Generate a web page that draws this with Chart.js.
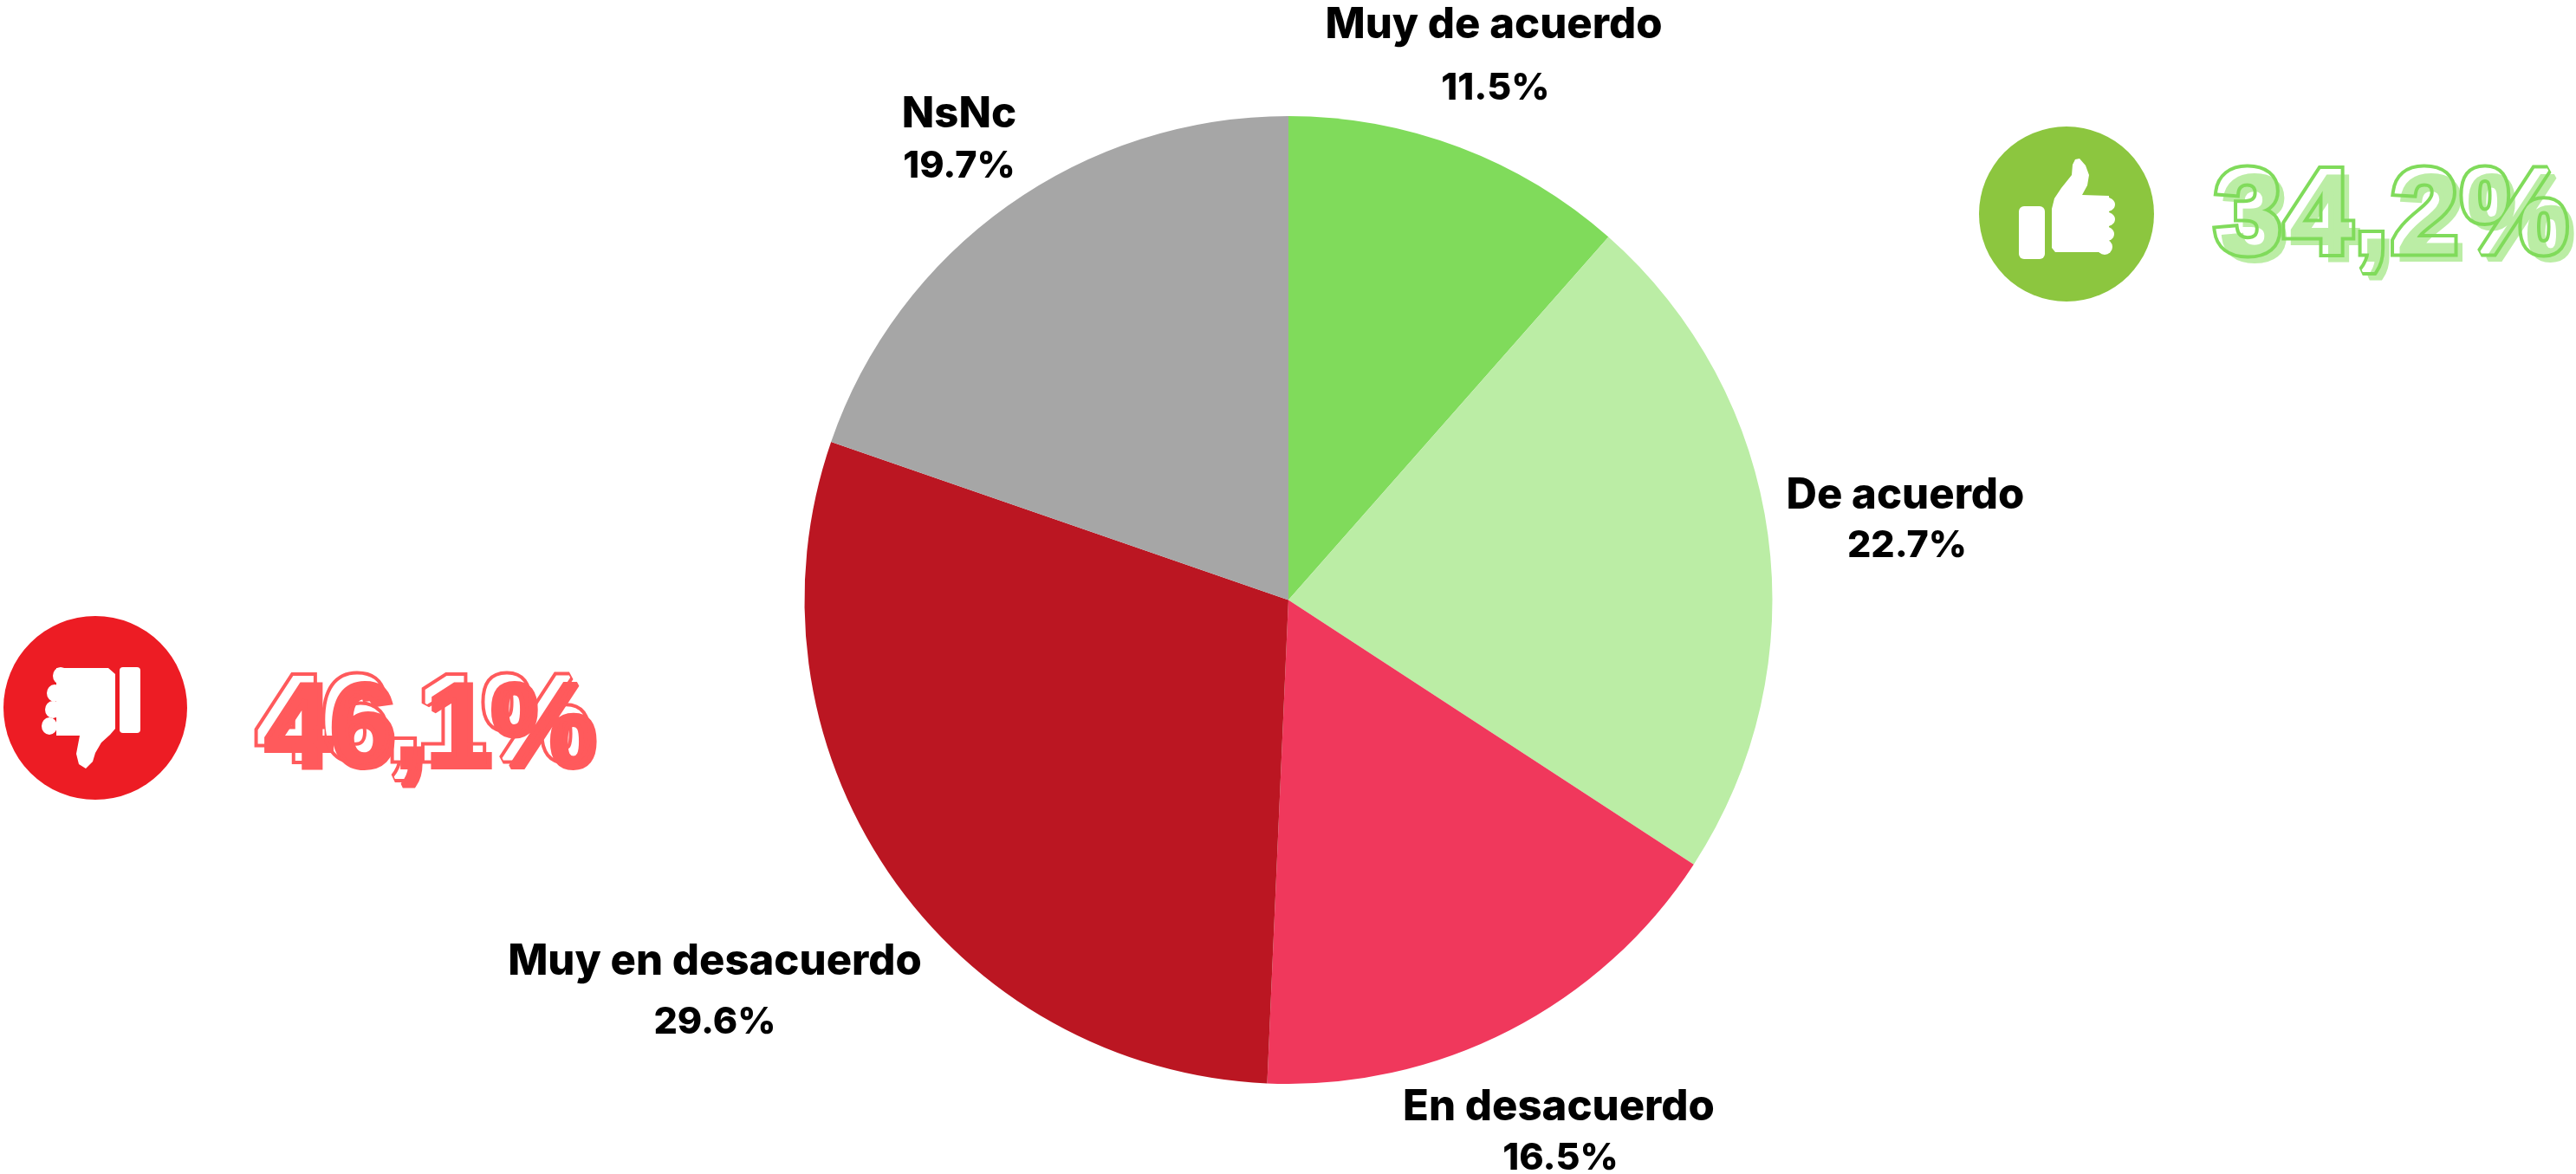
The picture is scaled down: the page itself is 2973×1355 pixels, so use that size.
<!DOCTYPE html>
<html>
<head>
<meta charset="utf-8">
<title>Pie</title>
<script src="https://cdn.jsdelivr.net/npm/chart.js@4/dist/chart.umd.min.js"></script>
<style>
  html, body { margin: 0; padding: 0; background: #fff; }
  canvas { display: block; }
</style>
</head>
<body>
<canvas id="pie" width="2973" height="1355"></canvas>
<script>
const categories = ["Muy de acuerdo", "De acuerdo", "En desacuerdo", "Muy en desacuerdo", "NsNc"];
const values = [11.5, 22.7, 16.5, 29.6, 19.7];
const colors = ["#80DB5B", "#BBEDA5", "#F0385C", "#BB1622", "#A6A6A6"];
const totalAgree = "34,2%";
const totalDisagree = "46,1%";

// label centres: [x name, y name, x value, y value]
const labelPos = [
    [1724, 29, 1726, 102],
    [2199, 572, 2201, 630],
    [1799, 1278, 1801, 1337],
    [825, 1110, 825, 1180],
    [1107, 132, 1107, 192]
];

function drawLabels(ctx) {
    ctx.fillStyle = "#000";
    ctx.textAlign = "center";
    ctx.textBaseline = "middle";
    categories.forEach((name, i) => {
        const p = labelPos[i];
        ctx.font = "800 49px Inter";
        ctx.fillText(name, p[0], p[1]);
        ctx.font = "800 43px Inter";
        ctx.fillText(values[i].toFixed(1) + "%", p[2], p[3]);
    });
}

function poly(ctx, cx, cy, pts) {
    ctx.beginPath();
    pts.forEach((p, i) => {
        if (i == 0) ctx.moveTo(cx + p[0], cy + p[1]);
        else ctx.lineTo(cx + p[0], cy + p[1]);
    });
    ctx.closePath();
    ctx.fill();
}

function roundBox(ctx, x, y, w, h, r) {
    ctx.beginPath();
    ctx.roundRect(x, y, w, h, r);
    ctx.fill();
}

function drawThumbUp(ctx, cx, cy) {
    ctx.fillStyle = "#8CC63F";
    ctx.beginPath();
    ctx.arc(cx, cy, 101, 0, Math.PI * 2);
    ctx.fill();
    ctx.fillStyle = "#fff";
    roundBox(ctx, cx - 55, cy - 9, 30, 61, 6);
    poly(ctx, cx, cy, [[-17, -6], [-14, -18], [-6, -30], [6, -45], [7, -57], [10, -63], [15, -64], [22, -56], [26, -45], [24, -33], [18, -22], [49, -21], [49, 44], [-13, 44], [-17, 39]]);
    [[-11, 15], [6, 15], [23, 14], [38, 12]].forEach(f => {
        ctx.beginPath();
        ctx.ellipse(cx + 44, cy + f[0], f[1] - 3, 9, 0, 0, Math.PI * 2);
        ctx.fill();
    });
}

function drawThumbDown(ctx, cx, cy) {
    ctx.fillStyle = "#ED1C24";
    ctx.beginPath();
    ctx.arc(cx, cy, 106, 0, Math.PI * 2);
    ctx.fill();
    ctx.fillStyle = "#fff";
    roundBox(ctx, cx + 28, cy - 47, 24, 76, 4);
    poly(ctx, cx, cy, [[-41, -46], [15, -46], [23, -39], [23, 24], [17, 31], [7, 40], [0, 52], [-3, 62], [-11, 70], [-19, 65], [-22, 53], [-18, 32], [-45, 32], [-45, -46]]);
    [[-37, -49], [-17, -56], [2, -58], [21, -62]].forEach(f => {
        ctx.beginPath();
        ctx.ellipse(cx + f[1] + 9, cy + f[0], 9, 10, 0, 0, Math.PI * 2);
        ctx.fill();
    });
}

// heavy look: solid copy shifted, then a ring round a thickened glyph with an empty middle
function drawBigNumber(ctx, text, x, y, fill, line, dx, dy, spacing) {
    const font = "bold 138px 'Liberation Sans'";
    const layer = document.createElement("canvas");
    layer.width = ctx.canvas.width;
    layer.height = ctx.canvas.height;
    const lc = layer.getContext("2d");
    lc.font = font;
    lc.letterSpacing = spacing + "px";
    lc.lineJoin = "miter";
    lc.miterLimit = 2;
    lc.strokeStyle = line;
    lc.lineWidth = 11;
    lc.strokeText(text, x, y);
    lc.globalCompositeOperation = "destination-out";
    lc.lineWidth = 3;
    lc.fillText(text, x, y);
    lc.strokeText(text, x, y);

    ctx.font = font;
    ctx.letterSpacing = spacing + "px";
    ctx.textAlign = "left";
    ctx.textBaseline = "alphabetic";
    ctx.lineJoin = "miter";
    ctx.miterLimit = 2;
    ctx.fillStyle = fill;
    ctx.strokeStyle = fill;
    ctx.lineWidth = 6;
    ctx.fillText(text, x + dx, y + dy);
    ctx.strokeText(text, x + dx, y + dy);
    ctx.letterSpacing = "0px";
    ctx.drawImage(layer, 0, 0);
}

const decoration = {
    id: "decoration",
    afterDraw(chart) {
        const ctx = chart.ctx;
        ctx.save();
        drawLabels(ctx);
        drawThumbUp(ctx, 2385, 247);
        drawThumbDown(ctx, 110, 817);
        drawBigNumber(ctx, totalAgree, 2556, 291, colors[1], colors[0], 8, 8, 4);
        drawBigNumber(ctx, totalDisagree, 297, 876, "#FF5A5C", "#FF5A5C", 9, 9, -2);
        ctx.restore();
    }
};

new Chart(document.getElementById("pie").getContext("2d"), {
    type: "pie",
    data: {
        labels: categories,
        datasets: [{
            data: values,
            backgroundColor: colors,
            borderWidth: 0
        }]
    },
    options: {
        responsive: false,
        animation: false,
        layout: { padding: { top: 134, bottom: 104, left: 928, right: 927 } },
        plugins: {
            legend: { display: false },
            tooltip: { enabled: false }
        }
    },
    plugins: [decoration]
});
</script>
</body>
</html>
